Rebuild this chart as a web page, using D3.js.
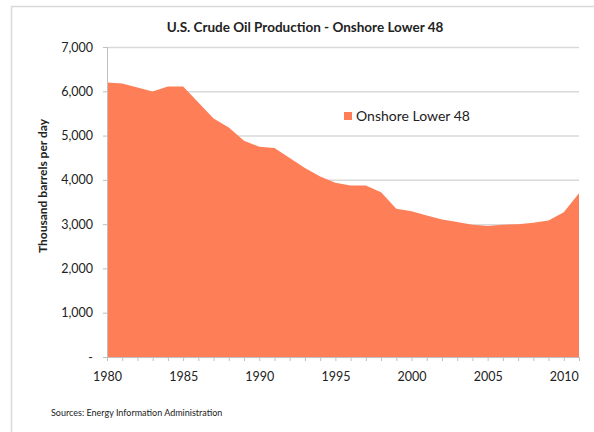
<!DOCTYPE html>
<html>
<head>
<meta charset="utf-8">
<script src="https://cdn.jsdelivr.net/npm/d3@7"></script>
<style>
  body { margin: 0; background: #fff; }
  text { font-family: Lato, "Open Sans", sans-serif; fill: #222; }
</style>
</head>
<body>
<div id="chart"></div>
<script>
"use strict"

/* Data */
let years = [1980, 1981, 1982, 1983, 1984, 1985, 1986, 1987, 1988, 1989,
             1990, 1991, 1992, 1993, 1994, 1995, 1996, 1997, 1998, 1999,
             2000, 2001, 2002, 2003, 2004, 2005, 2006, 2007, 2008, 2009,
             2010, 2011];
let onshore = [6196, 6175, 6085, 5995, 6107, 6110, 5746, 5386, 5183, 4884,
               4749, 4720, 4495, 4270, 4074, 3935, 3871, 3871, 3721, 3346,
               3293, 3196, 3106, 3046, 2987, 2956, 2987, 3000, 3031, 3084,
               3271, 3699];
let yTicks = [0, 1000, 2000, 3000, 4000, 5000, 6000, 7000];
let xTickLabels = [1980, 1985, 1990, 1995, 2000, 2005, 2010];

/* Drawing config */
let svgWidth = 594;
let svgHeight = 432;
let plotLeft = 107, plotRight = 579, plotTop = 47, plotBottom = 357;

let svg = d3.select("#chart")
    .append("svg")
    .attr("width", svgWidth)
    .attr("height", svgHeight);

/* Outer frame (only top and left visible in the picture) */
svg.append("line")
    .attr("x1", 11).attr("x2", svgWidth).attr("y1", 6.5).attr("y2", 6.5)
    .attr("stroke", "#d9d9d9").attr("stroke-width", 1.5);
svg.append("line")
    .attr("x1", 11.5).attr("x2", 11.5).attr("y1", 6).attr("y2", svgHeight)
    .attr("stroke", "#d9d9d9").attr("stroke-width", 1.5);

let xScale = d3.scaleLinear()
    .domain([1980, 2011])
    .range([plotLeft, plotRight]);

let yScale = d3.scaleLinear()
    .domain([0, 7000])
    .range([plotBottom, plotTop]);

/* Gridlines */
svg.append("g")
    .selectAll("line")
    .data(yTicks.filter(d => d > 0))
    .join("line")
    .attr("x1", plotLeft)
    .attr("x2", plotRight)
    .attr("y1", d => yScale(d) + 0.5)
    .attr("y2", d => yScale(d) + 0.5)
    .attr("stroke", "#d9d9d9")
    .attr("stroke-width", 1.5);

/* Area */
let area = d3.area()
    .x((d, i) => xScale(years[i]))
    .y0(yScale(0))
    .y1(d => yScale(d));

svg.append("path")
    .datum(onshore)
    .attr("d", area)
    .attr("fill", "#fd7e57");

/* Y axis */
let yAxis = d3.axisLeft(yScale)
    .tickValues(yTicks)
    .tickSize(4)
    .tickPadding(10)
    .tickFormat(d => d === 0 ? "-" : d3.format(",")(d));

let yg = svg.append("g")
    .attr("transform", "translate(" + plotLeft + ",0)")
    .call(yAxis);
yg.selectAll("path, line").attr("stroke", "#bfbfbf");
yg.selectAll("text").style("font-size", "12.5px").attr("fill", "#222");

/* X axis */
let xAxis = d3.axisBottom(xScale)
    .tickValues(years)
    .tickSize(4)
    .tickPadding(11)
    .tickFormat(d => xTickLabels.includes(d) ? d : "");

let xg = svg.append("g")
    .attr("transform", "translate(0," + plotBottom + ")")
    .call(xAxis);
xg.select(".domain").attr("d", "M" + plotLeft + ",0.5H" + plotRight);
xg.selectAll("path, line").attr("stroke", "#bfbfbf");
xg.selectAll("text").style("font-size", "12.5px").attr("fill", "#222");

/* Title */
svg.append("text")
    .attr("x", 305)
    .attr("y", 32)
    .attr("text-anchor", "middle")
    .style("font-weight", "bold")
    .style("font-size", "13.5px")
    .text("U.S. Crude Oil Production - Onshore Lower 48");

/* Y axis label */
svg.append("text")
    .attr("transform", "translate(47,186) rotate(-90)")
    .attr("text-anchor", "middle")
    .style("font-weight", "bold")
    .style("font-size", "12px")
    .text("Thousand barrels per day");

/* Legend */
svg.append("rect")
    .attr("x", 344)
    .attr("y", 112)
    .attr("width", 8)
    .attr("height", 8)
    .attr("fill", "#fd7e57");
svg.append("text")
    .attr("x", 356)
    .attr("y", 121)
    .style("font-size", "14px")
    .text("Onshore Lower 48");

/* Source */
svg.append("text")
    .attr("x", 51)
    .attr("y", 416)
    .style("font-size", "9px")
    .text("Sources: Energy Information Administration");
</script>
</body>
</html>
